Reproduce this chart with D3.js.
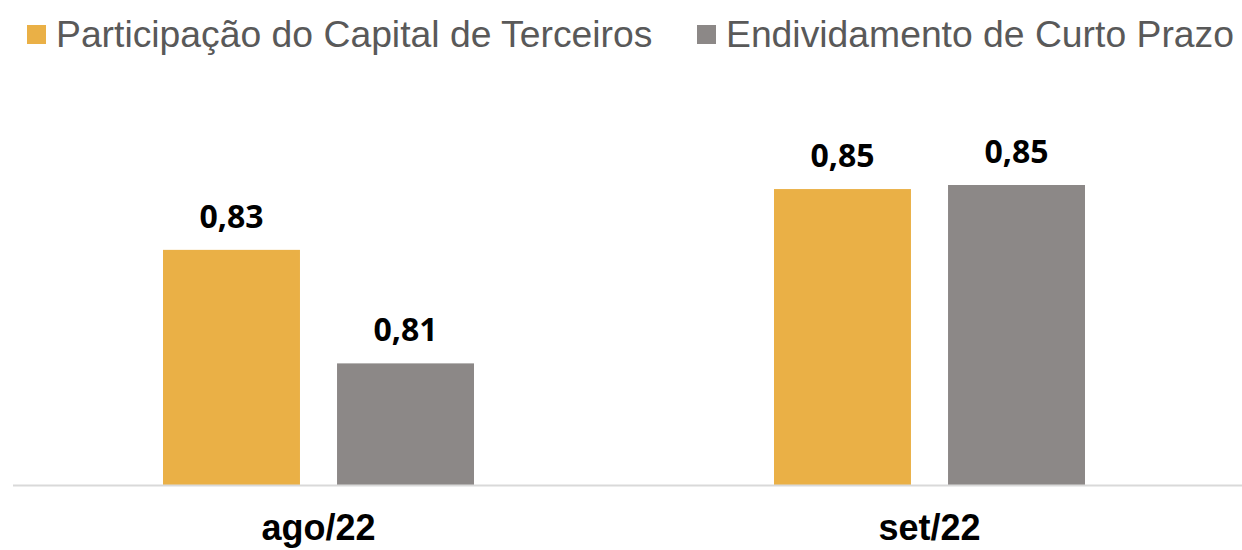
<!DOCTYPE html>
<html>
<head>
<meta charset="utf-8">
<style>
body { margin: 0; background: #fff; }
svg { display: block; }
</style>
</head>
<body>
<svg width="1242" height="550"></svg>
<script src="https://d3js.org/d3.v7.min.js"></script>
<script>
// data
var categories = ["ago/22", "set/22"];
var series = ["Participação do Capital de Terceiros", "Endividamento de Curto Prazo"];
var participacao = [0.834, 0.849];
var endividamento = [0.806, 0.850];
var colors = ["#EAB046", "#8C8887"];

var svg = d3.select("svg");
var baseY = 485;

var data = categories.map(function(c, i) {
  return {cat: c, values: [participacao[i], endividamento[i]]};
});

// outer and inner band scales
var x0 = d3.scaleBand()
    .domain(categories)
    .range([13, 1235]);

var x1 = d3.scaleBand()
    .domain(d3.range(series.length))
    .range([150, x0.bandwidth() - 150])
    .paddingInner(0.213);

// axis does not start at zero
var y = d3.scaleLinear()
    .domain([0.776, 0.850])
    .range([baseY, 185]);

var groups = svg.append("g")
  .selectAll("g")
  .data(data)
  .enter().append("g")
    .attr("transform", function(d) { return "translate(" + x0(d.cat) + ",0)"; });

groups.selectAll("rect")
  .data(function(d) { return d.values; })
  .enter().append("rect")
    .attr("x", function(d, i) { return x1(i); })
    .attr("y", function(d) { return y(d); })
    .attr("width", x1.bandwidth())
    .attr("height", function(d) { return baseY - y(d); })
    .attr("fill", function(d, i) { return colors[i]; });

groups.selectAll("text.val")
  .data(function(d) { return d.values; })
  .enter().append("text")
    .attr("class", "val")
    .attr("x", function(d, i) { return x1(i) + x1.bandwidth() / 2; })
    .attr("y", function(d) { return y(d) - 22; })
    .attr("text-anchor", "middle")
    .attr("font-family", "'Open Sans', sans-serif")
    .attr("font-weight", "bold")
    .attr("font-size", 32)
    .attr("fill", "#000")
    .text(function(d) { return d3.format(".2f")(d).replace(".", ","); });

// baseline
svg.append("line")
    .attr("x1", 13)
    .attr("x2", 1242)
    .attr("y1", baseY + 0.5)
    .attr("y2", baseY + 0.5)
    .attr("stroke", "#D9D9D9")
    .attr("stroke-width", 2);

// category labels
svg.append("g")
  .selectAll("text")
  .data(categories)
  .enter().append("text")
    .attr("x", function(d) { return x0(d) + x0.bandwidth() / 2; })
    .attr("y", 540)
    .attr("text-anchor", "middle")
    .attr("font-family", "'Liberation Sans', Arial, sans-serif")
    .attr("font-weight", "bold")
    .attr("font-size", 36)
    .attr("fill", "#000")
    .text(function(d) { return d; });

// legend
var legendX = [27, 697];
var legend = svg.append("g")
  .selectAll("g")
  .data(series)
  .enter().append("g")
    .attr("transform", function(d, i) { return "translate(" + legendX[i] + ",0)"; });

legend.append("rect")
    .attr("x", 0)
    .attr("y", 25)
    .attr("width", 19)
    .attr("height", 19)
    .attr("fill", function(d, i) { return colors[i]; });

legend.append("text")
    .attr("x", 29)
    .attr("y", 47)
    .attr("font-family", "'Liberation Sans', Arial, sans-serif")
    .attr("font-size", 37.3)
    .attr("fill", "#595959")
    .text(function(d) { return d; });
</script>
</body>
</html>
